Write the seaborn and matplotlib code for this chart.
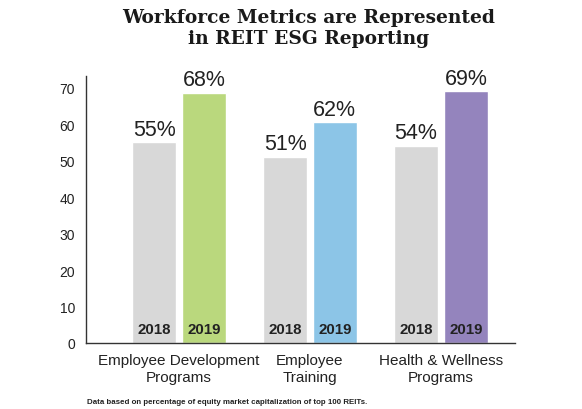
import numpy as np
import pandas as pd
import matplotlib
matplotlib.use('Agg')
import matplotlib.pyplot as plt
import seaborn as sns

# ---- data ----
categories = ['Employee Development\nPrograms', 'Employee\nTraining', 'Health & Wellness\nPrograms']
years = ['2018', '2019']
values_2018 = [55, 51, 54]
values_2019 = [68.5, 60.5, 69]
labels_2018 = ['55%', '51%', '54%']
labels_2019 = ['68%', '62%', '69%']
yticks = [0, 10, 20, 30, 40, 50, 60, 70]

GRAY = '#d8d8d8'
COLORS_2019 = ['#bad87d', '#8cc5e7', '#9484bd']
TEXT = '#222222'

df = pd.DataFrame({
    'category': categories * 2,
    'year': [years[0]] * len(categories) + [years[1]] * len(categories),
    'value': values_2018 + values_2019,
})

sns.set_style('white')
plt.rcParams['font.family'] = ['Liberation Sans', 'DejaVu Sans']

fig = plt.figure(figsize=(5.82, 4.10), dpi=100)
ax = fig.add_axes([0.1478, 0.161, 0.737, 0.652])

sns.barplot(data=df, x='category', y='value', hue='year', order=categories,
            hue_order=years, palette=[GRAY, GRAY], saturation=1, width=0.76,
            gap=0.12, errorbar=None, legend=False, ax=ax)

# 2019 bars get a colour per category
for bar, col in zip(ax.containers[1], COLORS_2019):
    bar.set_facecolor(col)

# percentage labels above bars, year labels inside at the foot
for container, labels, year in zip(ax.containers, [labels_2018, labels_2019], years):
    ax.bar_label(container, labels=labels, padding=2, fontsize=15.5, color=TEXT)
    for bar in container:
        ax.text(bar.get_x() + bar.get_width() / 2, 3.9, year, ha='center', va='center',
                fontsize=10.8, fontweight='bold', color=TEXT)

ax.set_xlim(-0.71, 2.565)
ax.set_ylim(0, 73.3)
ax.set_yticks(yticks)
ax.set_xlabel('')
ax.set_ylabel('')
sns.despine(ax=ax)
for side in ['left', 'bottom']:
    ax.spines[side].set_color('#333333')
    ax.spines[side].set_linewidth(1)

ax.tick_params(axis='y', length=0, pad=8, labelsize=10, labelcolor=TEXT)
ax.tick_params(axis='x', which='major', length=0, pad=7.5, labelsize=11, labelcolor=TEXT)
ax.set_xticks([2.565], minor=True)
ax.tick_params(axis='x', which='minor', direction='in', length=4, width=1, color='#333333')
for lbl in ax.get_xticklabels():
    lbl.set_linespacing(1.2)

fig.text(0.531, 0.978, 'Workforce Metrics are Represented\nin REIT ESG Reporting',
         ha='center', va='top', fontsize=13.4, fontweight='bold', family='DejaVu Serif',
         linespacing=1.22, color='#1a1a1a')

fig.text(87 / 582, 1 - 403 / 410,
         'Data based on percentage of equity market capitalization of top 100 REITs.',
         ha='left', va='center', fontsize=5.7, fontweight='bold',
         family=['Liberation Sans Narrow', 'Liberation Sans'], color=TEXT)

fig.savefig('out.png', dpi=100)
